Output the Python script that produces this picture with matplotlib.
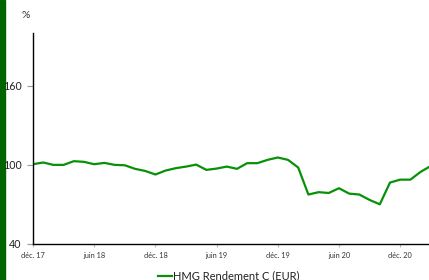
import matplotlib
matplotlib.use("Agg")
import matplotlib.pyplot as plt
from matplotlib.patches import Rectangle

months = ["déc. 17", "janv. 18", "févr. 18", "mars 18", "avr. 18", "mai 18", "juin 18",
          "juil. 18", "août 18", "sept. 18", "oct. 18", "nov. 18", "déc. 18",
          "janv. 19", "févr. 19", "mars 19", "avr. 19", "mai 19", "juin 19",
          "juil. 19", "août 19", "sept. 19", "oct. 19", "nov. 19", "déc. 19",
          "janv. 20", "févr. 20", "mars 20", "avr. 20", "mai 20", "juin 20",
          "juil. 20", "août 20", "sept. 20", "oct. 20", "nov. 20", "déc. 20",
          "janv. 21", "févr. 21", "mars 21"]
values = [100.5, 101.8, 100.0, 100.0, 102.8, 102.3, 100.5,
          101.5, 100.0, 99.7, 97.0, 95.4, 92.7,
          95.7, 97.5, 98.7, 100.2, 96.2, 97.2,
          98.7, 97.0, 101.3, 101.3, 103.8, 105.6,
          103.8, 98.0, 77.5, 79.3, 78.7, 82.3,
          78.2, 77.5, 73.4, 70.1, 86.6, 88.8,
          88.8, 94.7, 99.2]
series_name = "HMG Rendement C (EUR)"
xtick_labels = ["déc. 17", "juin 18", "déc. 18", "juin 19", "déc. 19", "juin 20", "déc. 20"]
yticks = [40, 100, 160]

plt.rcParams['font.family'] = ['Lato', 'DejaVu Sans']

W, H = 429, 280
fig = plt.figure(figsize=(W / 100, H / 100), dpi=100)
ax = fig.add_axes([33 / W, 36 / H, (W - 33) / W, (244 - 33) / H])

x = list(range(len(values)))
ax.plot(x, values, color="#079107", lw=1.6, solid_joinstyle="round")

ax.set_ylim(40, 200)
ax.set_xlim(0, (W - 33) / 10.2)
ax.set_yticks(yticks)
ax.set_yticklabels([str(v) for v in yticks], fontsize=7.7, color="#222222")
xt = [months.index(l) for l in xtick_labels]
ax.set_xticks(xt)
ax.set_xticklabels(xtick_labels, fontsize=5.3, color="#333333")
ax.tick_params(axis="y", length=4, width=0.8, color="#999999", pad=4)
ax.tick_params(axis="x", length=2, width=0.8, color="#bbbbbb", pad=4)
for s in ["top", "right"]:
    ax.spines[s].set_visible(False)
ax.spines["left"].set_linewidth(1.0)
ax.spines["bottom"].set_linewidth(1.0)

fig.text(26 / W, 1 - 15 / H, "%", fontsize=7.5, color="#333333", ha="center", va="center")

# left green bar
fig.patches.append(Rectangle((0, 0), 5 / W, 1, transform=fig.transFigure,
                             color="#006400", zorder=-1))

# legend (at the bottom edge, as in the reference)
fig.lines.append(plt.Line2D([158 / W, 172 / W], [1 - 275.5 / H, 1 - 275.5 / H],
                            transform=fig.transFigure, color="#079107", lw=1.6))
fig.text(173 / W, 1 - 275.5 / H, series_name, fontsize=8, color="#222222",
         ha="left", va="center")

fig.savefig("out.png", dpi=100)
